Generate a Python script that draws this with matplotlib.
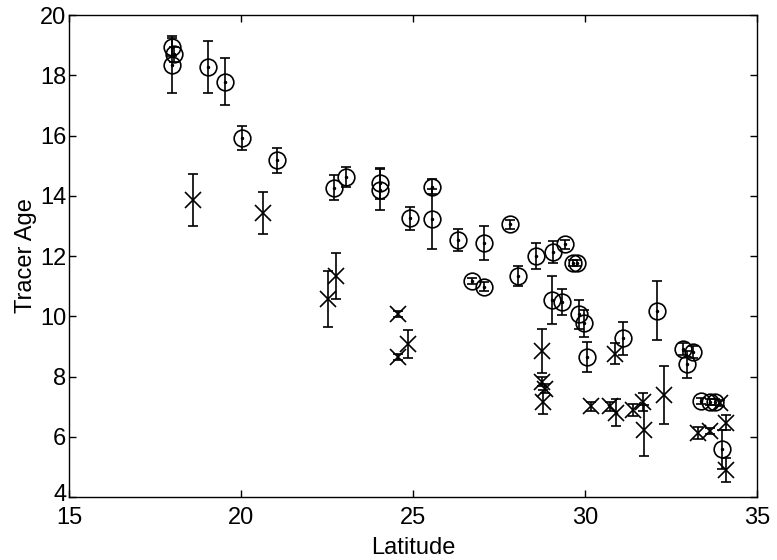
import matplotlib
matplotlib.use("Agg")
import matplotlib.pyplot as plt
import matplotlib.transforms as mtransforms

plt.rcParams['font.family'] = ['Liberation Sans', 'DejaVu Sans']

# circles (with centre dot)
circ_lat = [18.0, 18.05, 17.98, 19.03, 19.53, 20.04, 21.04, 22.71, 23.05, 24.04, 24.04,
            24.91, 25.56, 25.56, 26.3, 27.06, 27.82, 26.73, 27.06, 28.06, 28.58, 29.06,
            29.43, 29.64, 29.78, 29.03, 29.32, 29.84, 29.98, 30.07, 31.1, 32.1, 32.84,
            33.15, 32.96, 33.39, 33.63, 33.78, 34.0]
circ_age = [18.95, 18.7, 18.35, 18.28, 17.79, 15.93, 15.18, 14.27, 14.63, 14.41, 14.21,
            13.25, 14.3, 13.23, 12.53, 12.44, 13.05, 11.17, 10.98, 11.34, 12.0, 12.14,
            12.39, 11.76, 11.76, 10.54, 10.48, 10.06, 9.77, 8.64, 9.27, 10.18, 8.92,
            8.81, 8.4, 7.19, 7.17, 7.14, 5.58]
circ_err = [0.3, 0.25, 0.95, 0.87, 0.77, 0.4, 0.42, 0.41, 0.33, 0.5, 0.68,
            0.38, 0.25, 1.0, 0.36, 0.57, 0.15, 0.1, 0.15, 0.33, 0.44, 0.37,
            0.15, 0.1, 0.1, 0.81, 0.43, 0.48, 0.45, 0.5, 0.54, 0.98, 0.2,
            0.2, 0.46, 0.1, 0.1, 0.1, 0.66]

# crosses
x_lat = [18.61, 20.65, 22.54, 22.75, 24.55, 24.86, 24.55, 28.74, 28.74, 28.84, 28.79,
         30.17, 30.73, 30.9, 31.39, 31.68, 31.72, 30.87, 32.31, 33.29, 33.63, 33.92,
         34.1, 34.1]
x_age = [13.86, 13.42, 10.56, 11.34, 10.06, 9.08, 8.66, 8.86, 7.83, 7.6, 7.16,
         7.02, 7.02, 6.8, 6.89, 7.16, 6.22, 8.75, 7.39, 6.13, 6.2, 7.13,
         6.47, 4.9]
x_err = [0.85, 0.7, 0.93, 0.75, 0.1, 0.46, 0.1, 0.73, 0.15, 0.15, 0.4,
         0.15, 0.15, 0.44, 0.2, 0.3, 0.85, 0.35, 0.95, 0.2, 0.1, 0.1,
         0.25, 0.4]

fig = plt.figure(figsize=(7.77, 5.6), dpi=100)
ax = fig.add_axes([0.089, 0.1125, 0.885, 0.8605])

ax.errorbar(circ_lat, circ_age, yerr=circ_err, fmt='o', mfc='none', mec='k', color='k',
            ms=12, mew=1.2, elinewidth=1.2, capsize=3.8, capthick=1.2)
ax.plot(circ_lat, circ_age, '.', color='k', ms=3)
ax.errorbar(x_lat, x_age, yerr=x_err, fmt='x', color='k',
            ms=12, mew=1.2, elinewidth=1.2, capsize=3.8, capthick=1.2)

ax.set_xlim(15, 35)
ax.set_ylim(4, 20)
ax.set_xticks([15, 20, 25, 30, 35])
ax.set_yticks(range(4, 21, 2))
ax.tick_params(direction='in', top=True, right=True, length=5, labelsize=17, width=1)
ax.tick_params(axis='y', pad=2)
ax.tick_params(axis='x', pad=7)
for s in ax.spines.values():
    s.set_linewidth(1)
ax.set_xlabel("Latitude", fontsize=17, labelpad=6)
ax.set_ylabel("Tracer Age", fontsize=17, labelpad=2)

# nudge the bottom "4" label up a touch so it clears the "15" below it
lbl4 = ax.get_yticklabels()[0]
lbl4.set_transform(lbl4.get_transform() +
                   mtransforms.ScaledTranslation(0, 3 / 72, fig.dpi_scale_trans))

fig.savefig("out.png", dpi=100)
